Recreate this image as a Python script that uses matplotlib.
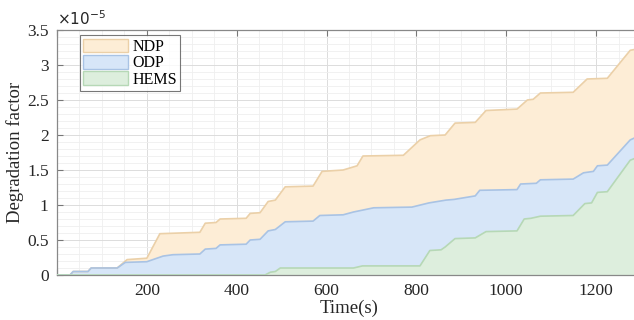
import matplotlib.pyplot as plt
from matplotlib.patches import Patch
from matplotlib.ticker import MultipleLocator, FuncFormatter

plt.rcParams['font.family'] = ['Liberation Serif', 'DejaVu Serif']

# values in units of 1e-5
ndp_t = [0, 29, 36, 69, 76, 134, 156, 200, 229, 318, 330, 354, 363, 421, 430, 452,
         470, 486, 508, 570, 590, 637, 668, 681, 771, 808, 831, 864, 886, 931, 955,
         1024, 1047, 1060, 1076, 1149, 1180, 1225, 1276, 1300]
ndp_v = [0, 0, 0.05, 0.05, 0.1, 0.1, 0.22, 0.24, 0.59, 0.61, 0.74, 0.75, 0.8, 0.81,
         0.88, 0.89, 1.05, 1.07, 1.26, 1.27, 1.48, 1.5, 1.56, 1.7, 1.71, 1.93, 1.99,
         2.0, 2.17, 2.18, 2.35, 2.37, 2.5, 2.51, 2.6, 2.61, 2.8, 2.81, 3.21, 3.24]

odp_t = [0, 29, 36, 69, 76, 134, 152, 200, 236, 258, 318, 330, 354, 363, 421, 430,
         452, 470, 486, 508, 570, 585, 637, 660, 705, 790, 828, 866, 884, 931, 941,
         1024, 1032, 1067, 1076, 1149, 1172, 1194, 1203, 1225, 1276, 1300]
odp_v = [0, 0, 0.05, 0.05, 0.1, 0.1, 0.18, 0.19, 0.27, 0.29, 0.3, 0.37, 0.38, 0.43,
         0.44, 0.5, 0.51, 0.63, 0.65, 0.76, 0.77, 0.85, 0.86, 0.9, 0.96, 0.97, 1.03,
         1.07, 1.08, 1.13, 1.21, 1.22, 1.3, 1.31, 1.36, 1.37, 1.46, 1.48, 1.56, 1.57,
         1.93, 2.0]

hems_t = [0, 463, 475, 486, 497, 660, 680, 808, 830, 855, 864, 886, 931, 955,
          1024, 1040, 1055, 1076, 1149, 1175, 1190, 1203, 1225, 1276, 1300]
hems_v = [0, 0, 0.04, 0.05, 0.1, 0.1, 0.13, 0.13, 0.35, 0.36, 0.4, 0.52, 0.53,
          0.62, 0.63, 0.8, 0.81, 0.84, 0.85, 1.02, 1.03, 1.18, 1.19, 1.64, 1.7]

labels = ['NDP', 'ODP', 'HEMS']
faces = ['#FDEDD6', '#D7E6F8', '#DDEEDD']
edges = ['#EBD0A8', '#A9C3E4', '#B6D8B6']

fig = plt.figure(figsize=(6.34, 3.2), dpi=100)
ax = fig.add_axes([57 / 634, 45 / 320, (641 - 57) / 634, 245 / 320])

for t, v, fc, ec in zip([ndp_t, odp_t, hems_t], [ndp_v, odp_v, hems_v], faces, edges):
    ax.fill_between(t, 0, v, facecolor=fc, edgecolor='none', zorder=2)
    ax.plot(t, v, color=ec, lw=1.2, zorder=3)

ax.set_xlim(0, 1300)
ax.set_ylim(0, 3.5)
ax.xaxis.set_major_locator(MultipleLocator(200))
ax.xaxis.set_minor_locator(MultipleLocator(50))
ax.yaxis.set_major_locator(MultipleLocator(0.5))
ax.yaxis.set_minor_locator(MultipleLocator(0.1))
ax.xaxis.set_major_formatter(FuncFormatter(lambda x, p: '' if x == 0 else '%g' % x))
ax.yaxis.set_major_formatter(FuncFormatter(lambda y, p: '%g' % y))

ax.grid(which='major', color='#dcdcdc', lw=0.7, zorder=0)
ax.grid(which='minor', color='#efefef', lw=0.6, zorder=0)
ax.set_axisbelow(True)

ax.tick_params(which='major', direction='in', length=4, top=True, color='#777777',
               labelsize=12.5, labelcolor='#262626', pad=6)
ax.tick_params(which='minor', length=0)
for s in ax.spines.values():
    s.set_color('#888888')
    s.set_linewidth(0.9)
ax.spines['right'].set_visible(False)

ax.set_xlabel('Time(s)', fontsize=13.5, color='#262626', labelpad=0)
ax.set_ylabel('Degradation factor', fontsize=13.5, color='#262626', labelpad=2)
ax.text(0.0, 1.01, r'$\times10^{-5}$', transform=ax.transAxes, fontsize=11,
        color='#262626', ha='left', va='bottom', family='DejaVu Serif')

handles = [Patch(facecolor=f, edgecolor=e) for f, e in zip(faces, edges)]
leg = ax.legend(handles, labels, loc='upper left', bbox_to_anchor=(0.039, 0.978),
                fontsize=11.5, frameon=True, fancybox=False, handlelength=2.8,
                handleheight=0.95, borderpad=0.2, labelspacing=0.0, handletextpad=0.3,
                borderaxespad=0)
leg.get_frame().set_edgecolor('#555555')
leg.get_frame().set_linewidth(0.8)

fig.savefig('out.png', dpi=100)
